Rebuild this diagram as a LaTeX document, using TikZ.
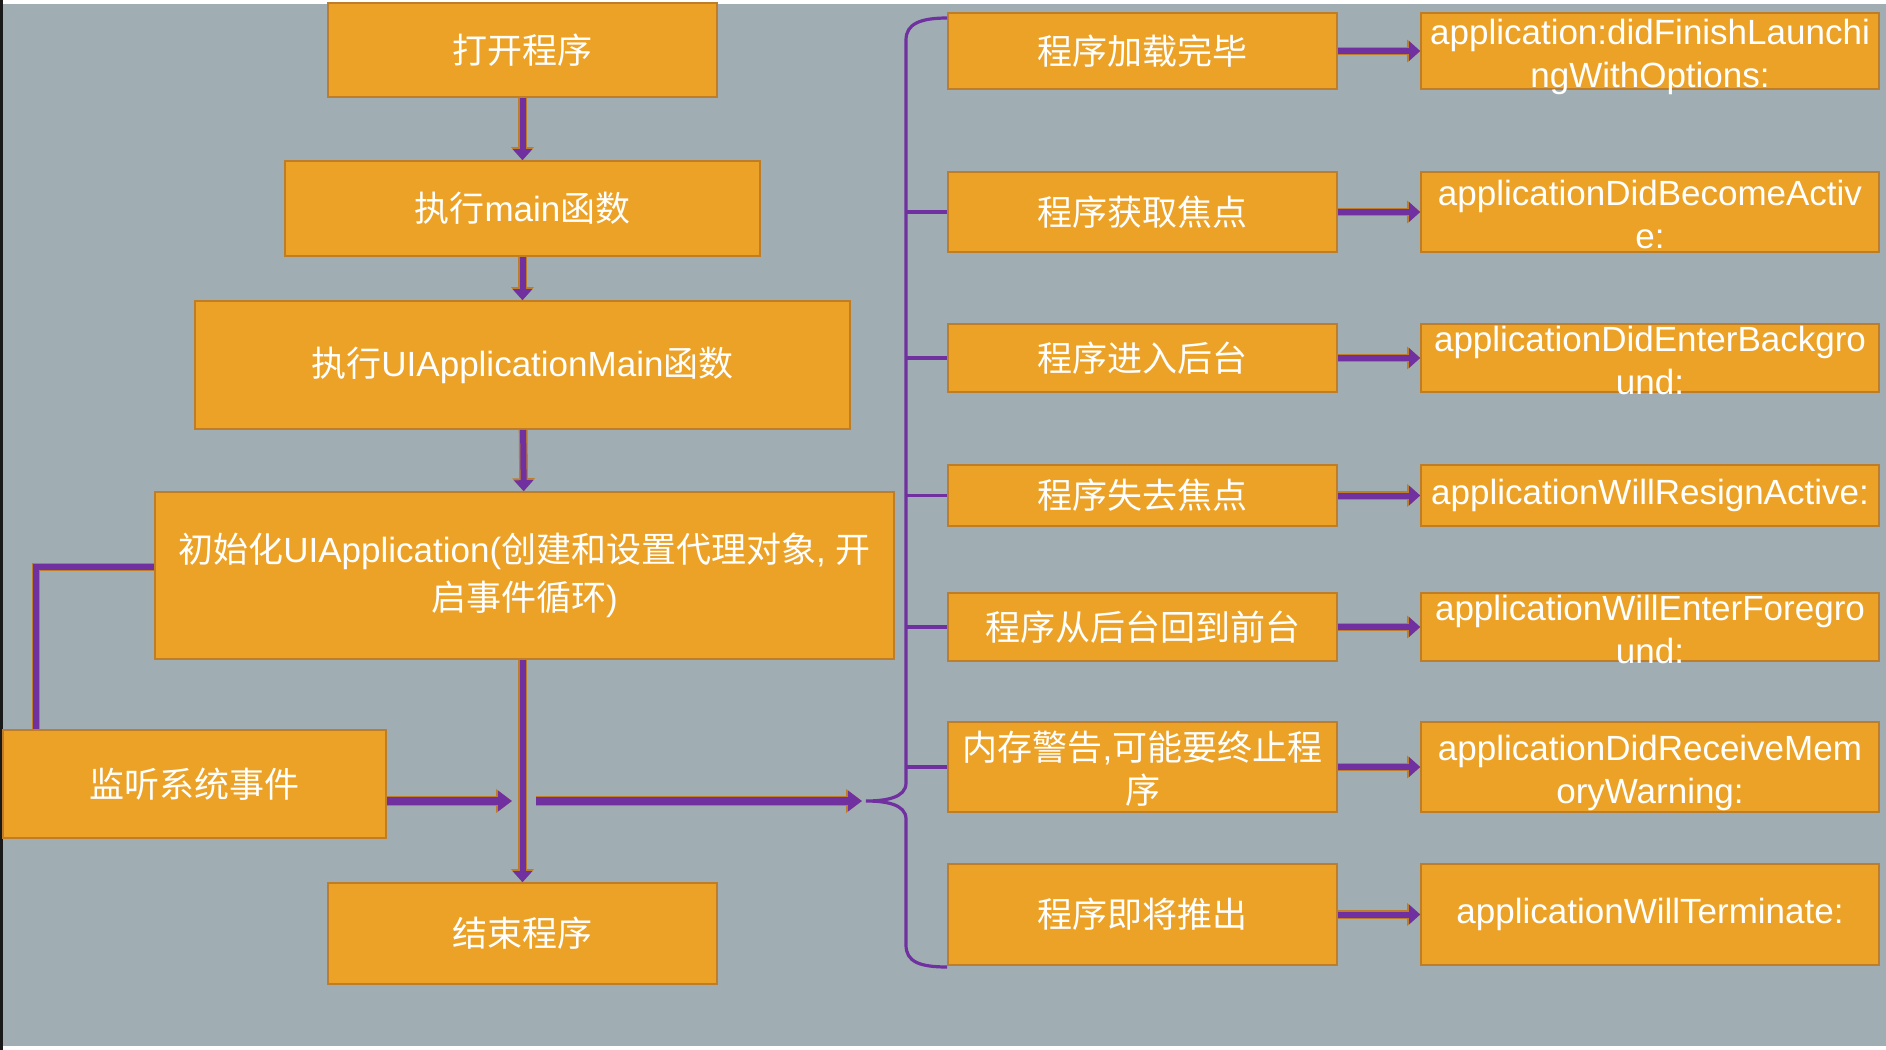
\documentclass[tikz,border=0pt]{standalone}
\usepackage{fontspec}
\setmainfont{Liberation Sans}
\newfontfamily\zhfont{Noto Sans CJK SC}
\newcommand{\zh}[1]{{\zhfont #1}}
\newcommand{\twoline}[2]{\smash{\raisebox{-0.42em}{\begin{tabular}{@{}c@{}}#1\\#2\end{tabular}}}}
\usetikzlibrary{arrows.meta}
\definecolor{bggray}{HTML}{A0AEB3}
\definecolor{boxfill}{HTML}{ECA226}
\definecolor{boxedge}{HTML}{BE7D28}
\definecolor{flowpurple}{HTML}{7030A0}
\tikzset{
  box/.style={draw=boxedge, fill=boxfill, line width=0.8pt, text=white, inner sep=0pt, font=\fontsize{17.5}{21.5}\selectfont},
  flow/.style={draw=flowpurple, line width=3pt, -{Triangle[length=5.5pt,width=9.5pt]}, preaction={draw=boxedge, line width=4.4pt, -{Triangle[length=6.5pt,width=11pt]}}},
  bigflow/.style={draw=flowpurple, line width=4pt, -{Triangle[length=7pt,width=10pt]}, preaction={draw=boxedge, line width=5.4pt, -{Triangle[length=8pt,width=11.5pt]}}},
  link/.style={draw=flowpurple, line width=3pt, preaction={draw=boxedge, line width=4.4pt}},
  brace/.style={draw=flowpurple, line width=1.6pt},
}
\begin{document}
\begin{tikzpicture}[x=0.5pt,y=-0.5pt]
 \useasboundingbox (0,0) rectangle (1886,1050);
 \fill[white] (0,0) rectangle (1886,1050);
 \fill[black!90] (0,0) rectangle (3,1050);
 \fill[bggray] (3,4) rectangle (1886,1046);
 % left column
 \node[box, minimum width=194.5pt, minimum height=47pt] (open) at (522.5,50) {\zh{打开程序}};
 \node[box, minimum width=237.5pt, minimum height=47.5pt] (main) at (522.5,208.5) {\zh{执行}main\zh{函数}};
 \node[box, minimum width=327.5pt, minimum height=64pt] (uimain) at (522.5,365) {\zh{执行}UIApplicationMain\zh{函数}};
 \node[box, minimum width=369.5pt, minimum height=83.5pt, align=center, font=\fontsize{17.5}{24}\selectfont] (init) at (524.5,575.5) {\zh{初始化}UIApplication(\zh{创建和设置代理对象}, \zh{开}\\\zh{启事件循环})};
 \node[box, minimum width=191.5pt, minimum height=54pt] (listen) at (194.5,784) {\zh{监听系统事件}};
 \node[box, minimum width=194.5pt, minimum height=50.5pt] (quit) at (522.5,933.5) {\zh{结束程序}};
 \draw[flow] (open) -- (main);
 \draw[flow] (main) -- (uimain);
 \draw[flow] (uimain) -- (init);
 \draw[flow] (init.south -| quit) -- (quit);
 \coordinate (hook) at (36,567);
 \draw[link] (init.west |- hook) -- (hook) -- (hook |- listen.north);
 \coordinate (hopin) at (512,801);
 \coordinate (hopout) at (536,801);
 \coordinate (bracetip) at (866,801);
 \draw[bigflow] (listen.east |- hopin) -- (hopin);
 \draw[bigflow] (hopout) -- ([xshift=-2pt]bracetip);
 % right column: states
 \node[box, minimum width=194.5pt, minimum height=38pt] (st1) at (1142.5,51) {\zh{程序加载完毕}};
 \node[box, minimum width=194.5pt, minimum height=40pt] (st2) at (1142.5,212) {\zh{程序获取焦点}};
 \node[box, minimum width=194.5pt, minimum height=34pt] (st3) at (1142.5,358) {\zh{程序进入后台}};
 \node[box, minimum width=194.5pt, minimum height=30.5pt] (st4) at (1142.5,495.5) {\zh{程序失去焦点}};
 \node[box, minimum width=194.5pt, minimum height=34pt] (st5) at (1142.5,627) {\zh{程序从后台回到前台}};
 \node[box, minimum width=194.5pt, minimum height=45pt] (st6) at (1142.5,767) {\twoline{\zh{内存警告},\zh{可能要终止程}}{\zh{序}}};
 \node[box, minimum width=194.5pt, minimum height=50.5pt] (st7) at (1142.5,914.5) {\zh{程序即将推出}};
 % right column: delegate methods
 \node[box, minimum width=229pt, minimum height=38pt] (cb1) at (1650,51) {\twoline{application:didFinishLaunchi}{ngWithOptions:}};
 \node[box, minimum width=229pt, minimum height=40pt] (cb2) at (1650,212) {\twoline{applicationDidBecomeActiv}{e:}};
 \node[box, minimum width=229pt, minimum height=34pt] (cb3) at (1650,358) {\twoline{applicationDidEnterBackgro}{und:}};
 \node[box, minimum width=229pt, minimum height=30.5pt] (cb4) at (1650,495.5) {\raisebox{-0.1em}{applicationWillResignActive:}};
 \node[box, minimum width=229pt, minimum height=34pt] (cb5) at (1650,627) {\twoline{applicationWillEnterForegro}{und:}};
 \node[box, minimum width=229pt, minimum height=45pt] (cb6) at (1650,767) {\twoline{applicationDidReceiveMem}{oryWarning:}};
 \node[box, minimum width=229pt, minimum height=50.5pt] (cb7) at (1650,914.5) {\raisebox{-0.1em}{applicationWillTerminate:}};
 \draw[flow] (st1) -- (cb1);
 \draw[flow] (st2) -- (cb2);
 \draw[flow] (st3) -- (cb3);
 \draw[flow] (st4) -- (cb4);
 \draw[flow] (st5) -- (cb5);
 \draw[flow] (st6) -- (cb6);
 \draw[flow] (st7) -- (cb7);
 % brace
 \coordinate (spine) at (906,0);
 \draw[brace] (st1.west |- 0,18) .. controls (920,18) and (906,24) .. (906,40) -- (906,783)
   .. controls (906,798) and (885,801) .. (bracetip) .. controls (885,801) and (906,804) .. (906,819)
   -- (906,945) .. controls (906,962) and (920,967) .. (st7.west |- 0,967);
 \draw[brace] (st2.west -| spine) -- (st2.west);
 \draw[brace] (st3.west -| spine) -- (st3.west);
 \draw[brace] (st4.west -| spine) -- (st4.west);
 \draw[brace] (st5.west -| spine) -- (st5.west);
 \draw[brace] (st6.west -| spine) -- (st6.west);
\end{tikzpicture}
\end{document}
